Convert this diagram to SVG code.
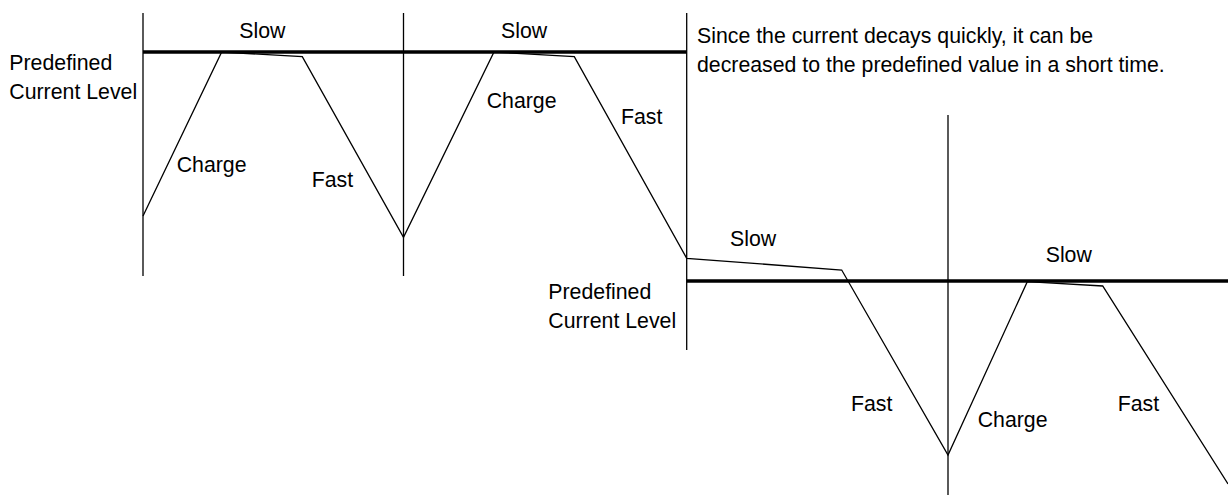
<svg xmlns="http://www.w3.org/2000/svg" width="1228" height="501" viewBox="0 0 1228 501">
<style>
text{font-family:"Liberation Sans",Arial,sans-serif;font-size:21.3px;fill:#000}
.axis{stroke:#000;stroke-width:1.3;fill:none}
.level{stroke:#000;stroke-width:3.5;fill:none}
.wave{stroke:#000;stroke-width:1.3;fill:none;stroke-linejoin:miter}
</style>
<rect width="1228" height="501" fill="#fff"/>
<g id="connectors">
<line class="axis" x1="143" y1="13" x2="143" y2="276"/>
<line class="axis" x1="403.5" y1="13" x2="403.5" y2="276"/>
<line class="axis" x1="686.7" y1="13" x2="686.7" y2="350"/>
<line class="axis" x1="948" y1="115" x2="948" y2="495"/>
<line class="level" x1="143" y1="52" x2="686.7" y2="52"/>
<line class="level" x1="686.7" y1="281" x2="1228" y2="281"/>
<polyline class="wave" points="143,216 221.7,52 302.3,56.7 403.5,237.3 494,52 574.3,56.7 686.7,258.3 841.7,270 948,455 1027.3,281.7 1102.7,286 1228,484"/>
</g>
<g id="labels-upper">
<text x="239.3" y="38.3">Slow</text>
<text x="501" y="38.3">Slow</text>
<text x="9.3" y="70">Predefined</text>
<text x="9.3" y="99">Current Level</text>
<text x="176.7" y="171.5">Charge</text>
<text x="311.7" y="187">Fast</text>
<text x="486.7" y="107.5">Charge</text>
<text x="621" y="123.5">Fast</text>
</g>
<g id="note">
<text x="697" y="43">Since the current decays quickly, it can be</text>
<text x="697" y="72">decreased to the predefined value in a short time.</text>
</g>
<g id="labels-lower">
<text x="730" y="246">Slow</text>
<text x="548.3" y="299.3">Predefined</text>
<text x="548.3" y="328.3">Current Level</text>
<text x="851" y="411">Fast</text>
<text x="1045.7" y="262">Slow</text>
<text x="977.7" y="426.5">Charge</text>
<text x="1117.7" y="411">Fast</text>
</g>
</svg>
